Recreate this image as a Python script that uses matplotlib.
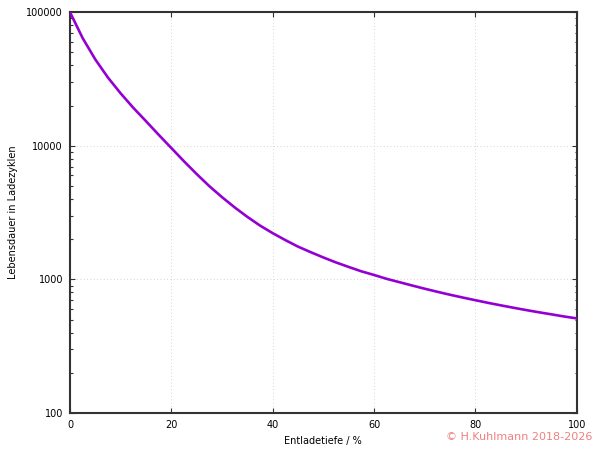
import numpy as np
import matplotlib
matplotlib.use('Agg')
import matplotlib.pyplot as plt
from matplotlib import font_manager
from matplotlib.ticker import LogLocator, FixedLocator, NullFormatter

# Entladetiefe (%) and Lebensdauer (Ladezyklen)
dod = [0, 2.5, 5, 7.5, 10, 12.5, 15, 17.5, 20, 22.5, 25, 27.5, 30, 32.5,
       35, 37.5, 40, 42.5, 45, 47.5, 50, 52.5, 55, 57.5, 60, 62.5, 65,
       67.5, 70, 72.5, 75, 77.5, 80, 82.5, 85, 87.5, 90, 92.5, 95, 97.5,
       100]
cycles = [100000, 64000, 44300, 32400, 24700, 19250, 15300, 12100, 9630,
          7660, 6150, 4990, 4130, 3460, 2940, 2530, 2220, 1970, 1760,
          1600, 1460, 1340, 1240, 1150, 1080, 1010, 954, 901, 852, 808,
          768, 732, 699, 668, 640, 614, 590, 568, 548, 528, 511]

x_ticks = [0, 20, 40, 60, 80, 100]
y_ticks = [100, 1000, 10000, 100000]
y_labels = ['100', '1000', '10000', '100000']

plt.rcParams.update({
    'font.family': 'DejaVu Sans',
    'font.size': 7,
})

fig = plt.figure(figsize=(6, 4.5), dpi=100)
ax = fig.add_axes([0.1167, 0.0822, 0.8445, 0.8905])

ax.plot(dod, cycles, color='#9400D3', lw=1.9, zorder=3)

ax.set_yscale('log')
ax.set_xlim(0, 100)
ax.set_ylim(100, 100000)

ax.xaxis.set_major_locator(FixedLocator(x_ticks))
ax.set_yticks(y_ticks)
ax.set_yticklabels(y_labels)
ax.yaxis.set_minor_locator(LogLocator(base=10, subs=np.arange(2, 10)))
ax.yaxis.set_minor_formatter(NullFormatter())

ax.tick_params(which='both', direction='in', top=True, right=True,
               color='#333333', labelsize=7, labelcolor='black')
ax.tick_params(which='major', length=3.5, width=0.8, pad=5)
ax.tick_params(which='minor', length=1.8, width=0.8)

ax.grid(True, which='major', ls=(0, (1, 3)), color='#c8c8c8', lw=0.6)

for s in ax.spines.values():
    s.set_color('#333333')
    s.set_linewidth(1.5)

ax.set_xlabel('Entladetiefe / %', fontsize=7, labelpad=4)
ax.set_ylabel('Lebensdauer in Ladezyklen', fontsize=7, labelpad=6)

# narrow font for the copyright note, if available
names = {f.name for f in font_manager.fontManager.ttflist}
if 'Liberation Sans Narrow' in names:
    cfont, csize = 'Liberation Sans Narrow', 11
else:
    cfont, csize = 'DejaVu Sans', 8
fig.text(0.987, 0.028, '\u00a9 H.Kuhlmann 2018-2026', color='#f08080',
         fontsize=csize, family=cfont, ha='right', va='center')

fig.savefig('out.png', dpi=100)
